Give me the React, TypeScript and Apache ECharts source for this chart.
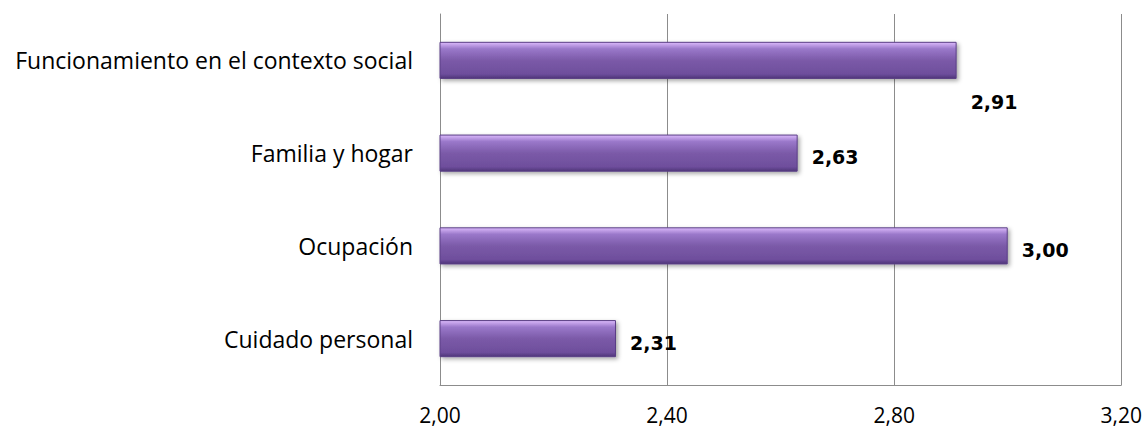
import React, { useEffect, useRef } from "react";
import * as echarts from "echarts";

const categories = ["Cuidado personal", "Ocupación", "Familia y hogar", "Funcionamiento en el contexto social"];
const values = [2.31, 3.0, 2.63, 2.91];
const xTicks = [2.0, 2.4, 2.8, 3.2];

export default function App() {
  const ref = useRef<HTMLDivElement>(null);
  useEffect(() => {
    if (!ref.current) return;
    const chart = echarts.init(ref.current, null, { renderer: "svg" });
    const fmt = (v: number) => v.toFixed(2).replace(".", ",");
    const barColor = new echarts.graphic.LinearGradient(0, 0, 0, 1, [
      { offset: 0, color: "#dbb9fb" },
      { offset: 0.18, color: "#9a78ca" },
      { offset: 0.5, color: "#7b5aa8" },
      { offset: 0.88, color: "#6e4e9c" },
      { offset: 1, color: "#4f3579" },
    ]);
    chart.setOption({
      animation: false,
      grid: { left: 440, right: 23, top: 14, bottom: 46, containLabel: false },
      xAxis: {
        type: "value",
        min: xTicks[0],
        max: xTicks[xTicks.length - 1],
        interval: 0.4,
        axisLine: { show: true, lineStyle: { color: "#8c8c8c", width: 1 } },
        axisTick: { show: false },
        splitLine: { show: true, lineStyle: { color: "#8c8c8c", width: 1 } },
        axisLabel: {
          formatter: (v: number) => fmt(v),
          color: "#000",
          fontFamily: "Open Sans",
          fontSize: 21,
          margin: 19,
        },
      },
      yAxis: {
        type: "category",
        data: categories,
        axisLine: { show: true, lineStyle: { color: "#8c8c8c", width: 1 } },
        axisTick: { show: false },
        axisLabel: {
          color: "#000",
          fontFamily: "Open Sans",
          fontSize: 23,
          margin: 27,
        },
      },
      series: [
        {
          type: "bar",
          barWidth: "40%",
          data: values.map((v, i) =>
            i === 3
              ? { value: v, label: { position: "right", offset: [0, 42] } }
              : { value: v }
          ),
          itemStyle: {
            color: barColor,
            borderColor: "#5a3f85",
            borderWidth: 1,
            shadowColor: "rgba(0,0,0,0.35)",
            shadowBlur: 4,
            shadowOffsetX: 2,
            shadowOffsetY: 2,
          },
          label: {
            show: true,
            position: "right",
            distance: 14,
            offset: [0, 4],
            formatter: (p: any) => fmt(p.value),
            color: "#000",
            fontFamily: "DejaVu Sans",
            fontWeight: "bold",
            fontSize: 19,
          },
        },
      ],
    });
    return () => chart.dispose();
  }, []);
  return (
    <div
      ref={ref}
      style={{ position: "fixed", left: 0, top: 0, width: 1145, height: 431, background: "#fff" }}
    />
  );
}
